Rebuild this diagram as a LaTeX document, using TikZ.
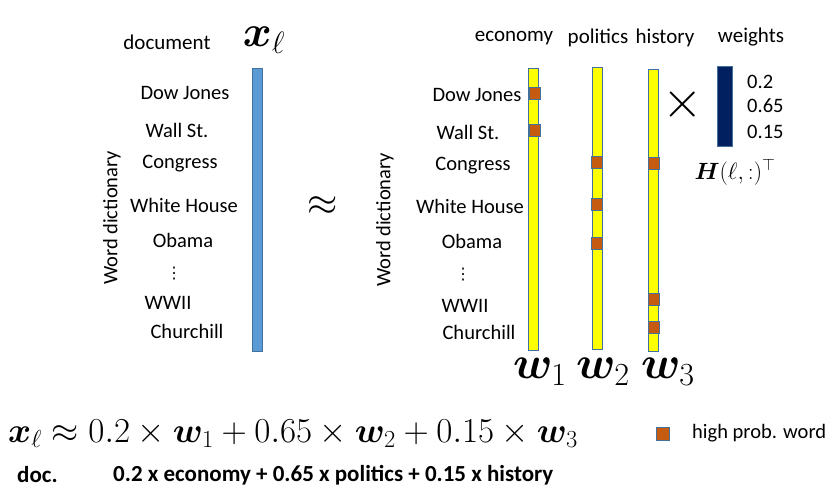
\documentclass[tikz,border=0pt]{standalone}
\usepackage{fix-cm}
\usepackage{amsmath,bm}
\usepackage{fontspec}
\setmainfont{Carlito}
\newfontfamily\dejavu{DejaVu Sans}
\definecolor{barblue}{RGB}{91,155,213}
\definecolor{barblueedge}{RGB}{65,113,156}
\definecolor{baryellow}{RGB}{255,255,0}
\definecolor{hiorange}{RGB}{197,90,17}
\definecolor{navy}{RGB}{0,32,96}
\begin{document}
\begin{tikzpicture}[x=1pt,y=-1pt,
  lbl/.style={font=\fontsize{20.5}{24}\selectfont, inner sep=0pt},
  hdr/.style={font=\fontsize{21}{24}\selectfont, inner sep=0pt},
  dots/.style={font=\dejavu\fontsize{16}{18}\selectfont, inner sep=0pt},
  vbar/.style={draw=barblueedge, line width=1pt, inner sep=0pt, minimum width=10pt},
  hsq/.style={draw=barblueedge, fill=hiorange, line width=1pt, inner sep=0pt, minimum width=11pt, minimum height=12pt},
  bigmath/.style={inner sep=0pt, font=\fontsize{46}{50}\selectfont}
]
\useasboundingbox (0,0) rectangle (831,490);
% left part
\node[hdr] (doc) at (167,42) {document};
\node[inner sep=0pt, font=\fontsize{44}{48}\selectfont] (xl) at (264,40) {$\bm{x}_\ell$};
\node[vbar, fill=barblue, minimum height=283pt] (b0) at (257,209.5) {};
\node[lbl] (l1) at (185,93) {Dow Jones};
\node[lbl] (l2) at (177,130) {Wall St.};
\node[lbl] (l3) at (180,164) {Congress};
\node[lbl] (l4) at (184,205) {White House};
\node[lbl] (l5) at (183,240) {Obama};
\node[dots] (l6) at (174,274) {⋮};
\node[lbl] (l7) at (168,303) {WWII};
\node[lbl] (l8) at (187,331) {Churchill};
\node[lbl, rotate=90] (wd1) at (112,218) {Word dictionary};
\node[inner sep=0pt, font=\fontsize{39}{44}\selectfont] (approx) at (323,206) {$\approx$};
% right part
\node[lbl, rotate=90] (wd2) at (385,220) {Word dictionary};
\node[lbl] (r1) at (477,95) {Dow Jones};
\node[lbl] (r2) at (468,132) {Wall St.};
\node[lbl] (r3) at (473,166) {Congress};
\node[lbl] (r4) at (470,206) {White House};
\node[lbl] (r5) at (472,241) {Obama};
\node[dots] (r6) at (463,275) {⋮};
\node[lbl] (r7) at (465,306) {WWII};
\node[lbl] (r8) at (479,332) {Churchill};
\node[hdr] (economy) at (514,38) {economy};
\node[hdr] (politics) at (598,38) {politics};
\node[hdr] (history) at (665,38) {history};
\node[hdr] (weights) at (751,37) {weights};
\node[vbar, fill=baryellow, minimum height=282pt] (w1bar) at (533.5,209) {};
\node[vbar, fill=baryellow, minimum height=282pt] (w2bar) at (597,208) {};
\node[vbar, fill=baryellow, minimum height=282pt] (w3bar) at (653.5,210) {};
\node[hsq] (s1) at (534.5,93) {};
\node[hsq] (s2) at (535,130) {};
\node[hsq] (s3) at (596.5,162) {};
\node[hsq] (s4) at (597,204.5) {};
\node[hsq] (s5) at (597,243.5) {};
\node[hsq] (s6) at (654,163) {};
\node[hsq] (s7) at (654,299.5) {};
\node[hsq] (s8) at (654,327) {};
\node[bigmath] (w1) at (540,372) {$\bm{w}_1$};
\node[bigmath] (w2) at (603,372) {$\bm{w}_2$};
\node[bigmath] (w3) at (668,372) {$\bm{w}_3$};
\node[inner sep=0pt, font=\fontsize{52}{56}\selectfont] (times) at (683,104) {$\times$};
\node[draw=barblueedge, fill=navy, line width=1pt, inner sep=0pt, minimum width=15pt, minimum height=80pt] (hbar) at (725,106) {};
\node[lbl, anchor=west] (h1) at (747,82) {0.2};
\node[lbl, anchor=west] (h2) at (747,106) {0.65};
\node[lbl, anchor=west] (h3) at (747,132) {0.15};
\node[inner sep=0pt, font=\fontsize{23.5}{28}\selectfont] (H) at (735,172) {$\bm{H}(\ell,:)^{\top}$};
% bottom
\node[inner sep=0pt, anchor=west, font=\fontsize{35}{40}\selectfont] (eq) at (8,434)
  {$\bm{x}_\ell \approx 0.2\times\bm{w}_1 + 0.65\times\bm{w}_2 + 0.15\times\bm{w}_3$};
\node[hsq, minimum width=13pt, minimum height=13pt] (leg) at (663,433.5) {};
\node[lbl, anchor=west] (legt) at (692,433) {high prob. word};
\node[inner sep=0pt, anchor=west, font=\fontsize{23}{26}\selectfont\bfseries] (docb) at (17,475) {doc.};
\node[inner sep=0pt, anchor=west, font=\fontsize{23}{26}\selectfont\bfseries] (sumb) at (113,475) {0.2 x economy + 0.65 x politics + 0.15 x history};
\end{tikzpicture}
\end{document}
